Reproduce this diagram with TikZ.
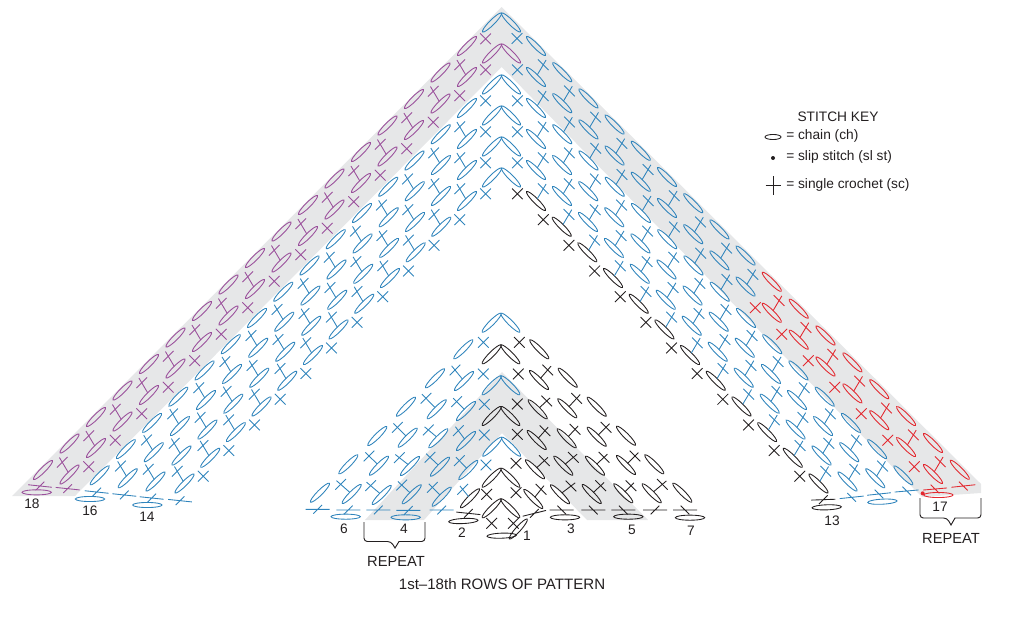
\documentclass[tikz,border=0pt]{standalone}
\usepackage{fontspec}
\setmainfont{Liberation Sans}
\usetikzlibrary{calc}
\definecolor{cblue}{HTML}{2F84BC}
\definecolor{cpurple}{HTML}{9A4F9B}
\definecolor{cred}{HTML}{E3282F}
\definecolor{cblack}{HTML}{231F20}
\definecolor{cgrey}{HTML}{E6E7E8}
\tikzset{
  stitch/.style={line width=0.65pt},
  lbl/.style={inner sep=0pt,text=cblack,font=\fontsize{10.3}{12}\selectfont},
  rep/.style={inner sep=0pt,text=cblack,font=\fontsize{11}{12}\selectfont},
  brace/.style={line width=0.7pt,draw=cblack,rounded corners=2.5pt},
  band/.style={fill=cgrey,draw=none}
}
\newcommand\stE[4]{\draw[stitch,draw=#4,rotate around={#3:(#1,#2)}] (#1,#2) ellipse [x radius=10pt,y radius=1.9pt];}
\newcommand\stB[4]{\draw[stitch,draw=#4,rotate around={#3:(#1,#2)}] (#1,#2) ellipse [x radius=11pt,y radius=1.9pt];}
\newcommand\stX[3]{\draw[stitch,draw=#3,shift={(#1,#2)}] (-4pt,-4pt)--(4pt,4pt) (-4pt,4pt)--(4pt,-4pt);}
% linked cross: sx,sy,ex,ey,colour; one arm of the cross runs on as the stem
\newcommand\stL[5]{\pgfmathsetmacro\stSg{(#1)>(#3) ? 1 : -1}%
  \draw[stitch,draw=#5,shift={(#1,#2)}] (-4pt,\stSg*4pt)--(4pt,-\stSg*4pt);
  \draw[stitch,draw=#5] ($(#1,#2)!0.82!(#3,#4)$)--($(#1,#2)!-0.38!(#3,#4)$);}
\newcommand\stF[5]{\draw[stitch,draw=#5,shift={(#1,#2)}] (#3:9pt)--(#3+180:9pt) (#4:4.6pt)--(#4+180:4.6pt);}
\newcommand\stC[4]{\stE{#1-9.5}{#2+9.5}{45}{#3}\stE{#1+9.5}{#2+9.5}{-45}{#4}}
\newcommand\stPos[4]{%
  \pgfmathsetmacro\stStep{(#1>0 && #3<2 && #2>9) ? 26.2*9+26.86*(#2-9) : (#1>0 && #3<2 ? 26.2*#2 : #4*#2)}%
  \pgfmathsetmacro\ex{501.5+#1*(34.5+\stStep)}%
  \pgfmathsetmacro\ey{46+31*#3+\stStep}%
  \pgfmathsetmacro\sx{\ex+#1*7.3}%
  \pgfmathsetmacro\sy{\ey-12.3}}
\begin{document}
\begin{tikzpicture}[x=0.75pt,y=-0.75pt]
\useasboundingbox (0,0) rectangle (1023,617);
\fill[band] (501.7,7) -- (981,484) -- (981,493) -- (922,497) -- (501.7,67) -- (75,496) -- (12,496) -- cycle;
\fill[band] (502,372) -- (648,520) -- (587,520) -- (502,433) -- (424,520) -- (365,520) -- cycle;
\stC{501.5}{13}{cblue}{cblue}
\stC{501.5}{44}{cpurple}{cpurple}
\foreach \j in {2,...,5}{\stC{501.5}{13+31*\j}{cblue}{cblue}}
\foreach \s in {-1,1}{
  \pgfmathsetmacro\ang{-45*\s}
  \foreach \j in {0,...,5}{
    \pgfmathtruncatemacro\last{16-\j}
    \pgfmathsetmacro\dd{{26.5,26.5,26.24,26.1,25.96,25.68}[\j]}
    \foreach \i in {0,...,\last}{
      \stPos{\s}{\i}{\j}{\dd}
      \pgfmathtruncatemacro\cc{\s<0 ? (\j<2 ? 1 : 0) : (\j<2 ? (\i>8 ? 2 : 0) : (\j==5 ? 3 : 0))}
      \ifcase\cc\relax\def\col{cblue}\or\def\col{cpurple}\or\def\col{cred}\or\def\col{cblack}\fi
      \stE{\ex}{\ey}{\ang}{\col}
      \ifnum\j=0\else
        \pgfmathtruncatemacro\lk{(\j==2 && (\s<0 || \i>7)) ? 0 : 1}
        \pgfmathtruncatemacro\cd{\s<0 ? (\j<2 ? 1 : 0) : (\j==1 && \i>8 ? 2 : 0)}
        \ifcase\cd\relax\def\col{cblue}\or\def\col{cpurple}\or\def\col{cred}\fi
        \ifnum\lk=1\relax
          \stL{\sx}{\sy}{\ex}{\ey}{\col}
        \fi
      \fi
    }
  }
  \foreach \j in {1,...,6}{
    \stPos{\s}{-1}{\j}{25.9}
    \pgfmathtruncatemacro\cc{\s<0 ? (\j<3 ? 1 : 0) : (\j==6 ? 3 : 0)}
    \ifcase\cc\relax\def\col{cblue}\or\def\col{cpurple}\or\def\col{cred}\or\def\col{cblack}\fi
    \stX{\sx}{\sy}{\col}
  }
  \foreach \i in {0,...,14}{
    \stPos{\s}{\i}{2}{26.5}
    \pgfmathtruncatemacro\cc{\s<0 ? 1 : (\i>7 ? 2 : -1)}
    \ifnum\cc<0\else
      \ifcase\cc\relax\def\col{cblue}\or\def\col{cpurple}\or\def\col{cred}\fi
      \stX{\sx}{\sy}{\col}
    \fi
  }
  \foreach \i in {0,...,10}{
    \stPos{\s}{\i}{6}{25.65}
    \ifnum\s<0\relax\def\col{cblue}\else\def\col{cblack}\fi
    \stX{\sx}{\sy}{\col}
  }
}
\begin{scope}[yshift=-285pt,x=0.25pt,y=-0.25pt]
\stF{120}{318}{-6}{45}{cpurple}\stB{110}{337}{0}{cpurple}
\stF{203}{326}{-6}{45}{cpurple}
\stF{290}{336}{-6}{45}{cblue}\stB{270}{357}{0}{cblue}
\stF{373}{345}{-6}{45}{cblue}
\stF{455}{354}{-6}{45}{cblue}\stB{442}{375}{0}{cblue}
\stF{540}{362}{-6}{45}{cblue}
\end{scope}
\begin{scope}[xshift=555pt,yshift=-195pt,x=0.25pt,y=-0.25pt]
\stF{250}{719}{2}{45}{cblack}\stB{260}{742}{2}{cblack}
\stF{335}{712}{6}{-45}{cblue}
\stF{417}{702}{6}{-45}{cblue}\stB{427}{725}{3}{cblue}
\stF{500}{693}{5}{-45}{cblue}
\stF{585}{687}{5}{-45}{cred}\stB{595}{705}{0}{cred}
\fill[cred] (548,700) circle (1.5pt);
\stF{670}{678}{6}{-45}{cred}
\end{scope}
\begin{scope}[xshift=225pt,yshift=-225pt,x=0.25pt,y=-0.25pt]
\foreach \ax/\ay/\cl/\cr in {603/40/cblue/cblue,603/135/cblack/cblack,603/228/cblue/cblue,603/320/cblack/cblack,605/412/cblue/cblue,603/505/cblack/cblack,603/597/cblack/cblack}{
  \stE{\ax-28}{\ay+28}{45}{\cl}\stE{\ax+28}{\ay+28}{-45}{\cr}}
\foreach \x/\y in {490/148,405/235,318/320,232/408,145/493,60/578}{\stE{\x}{\y}{45}{cblue}}
\foreach \x/\y in {718/148,803/233,890/320,978/407,1063/493,1147/578}{\stE{\x}{\y}{-45}{cblack}}
\foreach \x/\y/\sx/\sy in {492/243/465/210,410/328/378/295,323/413/292/382,237/497/207/468,155/582/122/553,
  498/333/470/305,415/415/385/390,330/498/298/473,245/585/212/557,
  498/423/475/392,420/500/390/472,335/583/305/555,
  505/510/478/482,425/590/397/562}{\stE{\x}{\y}{45}{cblue}\stL{\sx}{\sy}{\x}{\y}{cblue}}
\stE{510}{595}{45}{cblack}\stL{488}{568}{510}{595}{cblue}
\foreach \x/\y/\sx/\sy in {717/240/743/210,802/325/830/295,890/410/918/382,978/495/1005/468,1055/580/1087/553,
  713/328/740/303,800/415/825/388,885/497/912/472,970/580/993/557,
  710/420/735/392,790/497/820/472,875/582/902/557,
  705/508/733/482,780/583/813/558,
  700/597/723/568}{\stE{\x}{\y}{-45}{cblack}\stL{\sx}{\sy}{\x}{\y}{cblack}}
\foreach \x/\y in {550/127,550/222,553/313,553/405,558/495}{\stX{\x}{\y}{cblue}}
\foreach \x/\y in {560/583,658/127,655/222,652/312,652/403,648/490,648/578,575/670,640/670}{\stX{\x}{\y}{cblack}}
\stB{605}{707}{2}{cblack}
\stE{655}{687}{48}{cblack}
\stF{53}{628}{0}{45}{cblue}
\stF{145}{630}{0}{45}{cblue}\stB{137}{650}{0}{cblue}
\stF{235}{630}{0}{45}{cblue}
\stF{325}{631}{0}{45}{cblue}\stB{317}{652}{0}{cblue}
\stF{425}{630}{0}{45}{cblue}
\stF{505}{640}{-6}{45}{cblack}\stB{490}{663}{3}{cblack}
\stF{703}{640}{14}{45}{cblack}
\stF{785}{630}{0}{-45}{cblack}\stB{795}{652}{0}{cblack}
\stF{880}{630}{0}{-45}{cblack}
\stF{970}{630}{0}{-45}{cblack}\stB{985}{650}{0}{cblack}
\stF{1065}{630}{0}{45}{cblack}
\stF{1155}{630}{0}{-45}{cblack}\stB{1170}{653}{0}{cblack}
\end{scope}
\draw[brace] (364,522) -- (364,541.5) -- (391,541.5) [sharp corners] -- (395,548) -- (399,541.5) [rounded corners=2.5pt] -- (425,541.5) -- (425,522);
\draw[brace] (920,498) -- (920,518) -- (947,518) [sharp corners] -- (951,525) -- (955,518) [rounded corners=2.5pt] -- (981,518) -- (981,498);
\node[lbl] (n18) at (32,504) {18};
\node[lbl] (n16) at (90,511) {16};
\node[lbl] (n14) at (147,517) {14};
\node[lbl] (n6) at (344,529) {6};
\node[lbl] (n4) at (404,529) {4};
\node[lbl] (n2) at (462,533) {2};
\node[lbl] (n1) at (527,536) {1};
\node[lbl] (n3) at (571,529) {3};
\node[lbl] (n5) at (632,530) {5};
\node[lbl] (n7) at (691,531) {7};
\node[lbl] (n13) at (832,521) {13};
\node[lbl] (n17) at (940,507) {17};
\node[rep] (rA) at (396,561) {REPEAT};
\node[rep] (rB) at (951,538) {REPEAT};
\node[inner sep=0pt,text=cblack,font=\fontsize{11.3}{13}\selectfont] (title) at (502,584) {1st–18th ROWS OF PATTERN};
\node[lbl] (kT) at (838,117) {STITCH KEY};
\node[lbl,anchor=west] (kA) at (786,136) {= chain (ch)};
\node[lbl,anchor=west] (kB) at (786,157) {= slip stitch (sl st)};
\node[lbl,anchor=west] (kC) at (786,185) {= single crochet (sc)};
\draw[stitch,draw=cblack] (773,137) ellipse [x radius=6pt,y radius=1.9pt];
\fill[cblack] (773,158) circle (1.5pt);
\draw[stitch,draw=cblack] (765.5,185) -- (780.5,185) (773,176) -- (773,195);
\end{tikzpicture}
\end{document}
